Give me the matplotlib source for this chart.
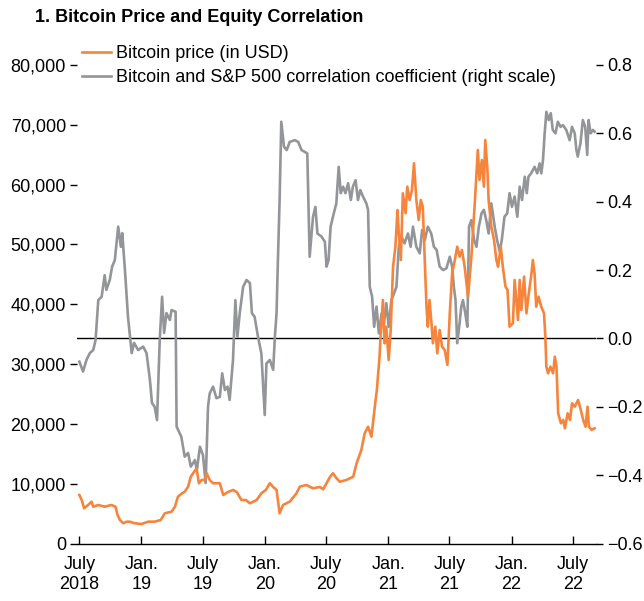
import numpy as np
import pandas as pd
import matplotlib
matplotlib.use("Agg")
import matplotlib.pyplot as plt

plt.rcParams['font.family'] = ['Liberation Sans Narrow', 'Liberation Sans', 'DejaVu Sans']

title = "1. Bitcoin Price and Equity Correlation"
btc_label = "Bitcoin price (in USD)"
corr_label = "Bitcoin and S&P 500 correlation coefficient (right scale)"

# Bitcoin price (USD)
btc_dates = [
    "2018-07-01", "2018-07-08", "2018-07-15", "2018-07-27", "2018-08-06", "2018-08-11", "2018-08-26",
    "2018-09-14", "2018-10-04", "2018-10-16", "2018-10-22", "2018-10-29", "2018-11-08", "2018-11-18",
    "2018-11-27", "2018-12-12", "2019-01-01", "2019-01-21", "2019-02-09", "2019-02-27", "2019-03-11",
    "2019-03-31", "2019-04-10", "2019-04-19", "2019-05-01", "2019-05-09", "2019-05-19", "2019-05-27",
    "2019-06-03", "2019-06-13", "2019-06-20", "2019-06-28", "2019-07-07", "2019-07-13", "2019-07-22",
    "2019-08-01", "2019-08-21", "2019-08-31", "2019-09-14", "2019-09-29", "2019-10-10", "2019-10-24",
    "2019-11-06", "2019-11-18", "2019-12-08", "2019-12-22", "2020-01-04", "2020-01-16", "2020-01-26",
    "2020-02-05", "2020-02-14", "2020-02-24", "2020-03-15", "2020-04-04", "2020-04-14", "2020-05-03",
    "2020-05-23", "2020-06-12", "2020-06-22", "2020-07-02", "2020-07-12", "2020-07-21", "2020-07-31",
    "2020-08-10", "2020-08-30", "2020-09-19", "2020-09-29", "2020-10-13", "2020-10-23", "2020-11-02",
    "2020-11-12", "2020-11-22", "2020-11-28", "2020-12-06", "2020-12-09", "2020-12-16", "2020-12-21",
    "2020-12-26", "2021-01-02", "2021-01-08", "2021-01-15", "2021-01-22", "2021-01-28", "2021-02-01",
    "2021-02-07", "2021-02-13", "2021-02-21", "2021-02-26", "2021-03-05", "2021-03-12", "2021-03-18",
    "2021-03-25", "2021-04-01", "2021-04-07", "2021-04-13", "2021-04-19", "2021-04-24", "2021-04-28",
    "2021-05-03", "2021-05-08", "2021-05-13", "2021-05-20", "2021-05-26", "2021-06-02", "2021-06-09",
    "2021-06-17", "2021-06-25", "2021-07-02", "2021-07-09", "2021-07-17", "2021-07-24", "2021-07-31",
    "2021-08-07", "2021-08-15", "2021-08-25", "2021-09-04", "2021-09-14", "2021-09-23", "2021-09-28",
    "2021-10-05", "2021-10-11", "2021-10-15", "2021-10-21", "2021-10-25", "2021-11-02", "2021-11-10",
    "2021-11-17", "2021-11-22", "2021-11-30", "2021-12-06", "2021-12-14", "2021-12-20", "2021-12-26",
    "2022-01-05", "2022-01-10", "2022-01-15", "2022-01-20", "2022-01-25", "2022-01-30", "2022-02-07",
    "2022-02-14", "2022-02-21", "2022-03-01", "2022-03-05", "2022-03-10", "2022-03-15", "2022-03-22",
    "2022-03-30", "2022-04-07", "2022-04-11", "2022-04-14", "2022-04-19", "2022-04-26", "2022-05-04",
    "2022-05-09", "2022-05-14", "2022-05-19", "2022-05-27", "2022-06-03", "2022-06-08", "2022-06-16",
    "2022-06-23", "2022-06-29", "2022-07-07", "2022-07-17", "2022-07-25", "2022-08-01", "2022-08-08",
    "2022-08-14", "2022-08-18", "2022-08-26", "2022-09-04",
]
btc_price = [
    8110, 7270, 5890, 6440, 6990, 6150, 6440,
    6150, 6440, 6150, 4770, 3930, 3380, 3650,
    3650, 3380, 3260, 3650, 3650, 3930, 5050,
    5320, 6150, 7830, 8390, 8660, 9500, 11170,
    11740, 12570, 10070, 10620, 10620, 11740, 10620,
    10070, 10070, 8110, 8610, 8950, 8610, 7270,
    7270, 6720, 7270, 8390, 8950, 10070, 9450,
    8950, 5050, 6440, 6990, 8390, 9500, 9780,
    9230, 9450, 9060, 10070, 11120, 11740, 10950,
    10330, 10620, 11170, 13410, 15630, 18420, 19530,
    17860, 22870, 25670, 31230, 34580, 40710, 33470,
    36250, 30680, 35700, 46280, 49620, 55760, 51870,
    47400, 58550, 55210, 59660, 57430, 59110, 63570,
    57430, 54090, 57430, 56310, 47400, 39590, 36250,
    40710, 37370, 33470, 36250, 31800, 35700, 32900,
    32350, 29850, 38490, 45180, 47400, 49620, 47950,
    49070, 46280, 41260, 47950, 56880, 65790, 60780,
    64120, 59660, 67470, 63000, 57430, 52970, 50740,
    47400, 46280, 49620, 46280, 42940, 42390, 36250,
    36820, 44060, 40710, 37370, 44060, 39040, 44610,
    38490, 41830, 45180, 47400, 45180, 39590, 41260,
    39590, 38490, 34580, 29560, 28460, 29560, 28460,
    31230, 29560, 21770, 20100, 20650, 19260, 21770,
    20650, 23440, 22870, 23990, 22320, 20650, 19530,
    22870, 19530, 18980, 19260,
]

# Bitcoin / S&P 500 correlation coefficient (right scale)
corr_dates = [
    "2018-07-01", "2018-07-12", "2018-07-22", "2018-08-01", "2018-08-11", "2018-08-18", "2018-08-26",
    "2018-09-05", "2018-09-14", "2018-09-19", "2018-09-29", "2018-10-06", "2018-10-14", "2018-10-24",
    "2018-11-01", "2018-11-05", "2018-11-13", "2018-11-22", "2018-12-03", "2018-12-10", "2018-12-22",
    "2019-01-06", "2019-01-16", "2019-01-26", "2019-02-01", "2019-02-09", "2019-02-16", "2019-02-24",
    "2019-03-03", "2019-03-09", "2019-03-16", "2019-03-26", "2019-03-31", "2019-04-12", "2019-04-15",
    "2019-04-29", "2019-05-09", "2019-05-19", "2019-05-27", "2019-06-08", "2019-06-14", "2019-06-23",
    "2019-07-02", "2019-07-10", "2019-07-17", "2019-07-22", "2019-08-01", "2019-08-11", "2019-08-21",
    "2019-08-28", "2019-09-05", "2019-09-13", "2019-09-19", "2019-09-29", "2019-10-06", "2019-10-12",
    "2019-10-19", "2019-10-29", "2019-11-08", "2019-11-18", "2019-11-24", "2019-12-02", "2019-12-12",
    "2019-12-22", "2020-01-01", "2020-01-06", "2020-01-16", "2020-01-26", "2020-01-31", "2020-02-05",
    "2020-02-09", "2020-02-14", "2020-02-19", "2020-02-27", "2020-03-06", "2020-03-15", "2020-03-30",
    "2020-04-09", "2020-04-19", "2020-04-28", "2020-05-06", "2020-05-13", "2020-05-23", "2020-05-30",
    "2020-06-05", "2020-06-17", "2020-06-27", "2020-07-02", "2020-07-08", "2020-07-14", "2020-07-21",
    "2020-07-31", "2020-08-07", "2020-08-13", "2020-08-20", "2020-08-27", "2020-09-04", "2020-09-12",
    "2020-09-18", "2020-09-26", "2020-10-03", "2020-10-10", "2020-10-18", "2020-10-28", "2020-11-02",
    "2020-11-07", "2020-11-14", "2020-11-20", "2020-11-27", "2020-12-04", "2020-12-12", "2020-12-19",
    "2020-12-26", "2021-01-02", "2021-01-10", "2021-01-18", "2021-01-25", "2021-02-01", "2021-02-09",
    "2021-02-18", "2021-02-28", "2021-03-08", "2021-03-15", "2021-03-25", "2021-04-04", "2021-04-11",
    "2021-04-19", "2021-04-28", "2021-05-08", "2021-05-16", "2021-05-24", "2021-06-02", "2021-06-12",
    "2021-06-22", "2021-07-02", "2021-07-09", "2021-07-14", "2021-07-19", "2021-07-24", "2021-07-31",
    "2021-08-05", "2021-08-10", "2021-08-17", "2021-08-23", "2021-08-28", "2021-09-04", "2021-09-12",
    "2021-09-19", "2021-09-26", "2021-10-04", "2021-10-11", "2021-10-18", "2021-10-25", "2021-11-02",
    "2021-11-12", "2021-11-19", "2021-11-27", "2021-12-03", "2021-12-11", "2021-12-19", "2021-12-26",
    "2022-01-02", "2022-01-10", "2022-01-18", "2022-01-25", "2022-02-01", "2022-02-09", "2022-02-15",
    "2022-02-20", "2022-02-28", "2022-03-10", "2022-03-18", "2022-03-25", "2022-03-30", "2022-04-04",
    "2022-04-09", "2022-04-14", "2022-04-21", "2022-04-27", "2022-05-03", "2022-05-11", "2022-05-18",
    "2022-05-26", "2022-06-02", "2022-06-12", "2022-06-22", "2022-06-29", "2022-07-07", "2022-07-12",
    "2022-07-16", "2022-07-24", "2022-07-31", "2022-08-07", "2022-08-13", "2022-08-17", "2022-08-23",
    "2022-08-30", "2022-09-04",
]
corr_value = [
    -0.068, -0.097, -0.063, -0.043, -0.034, -0.005, 0.112,
    0.122, 0.185, 0.142, 0.171, 0.210, 0.229, 0.327,
    0.268, 0.308, 0.200, 0.063, -0.043, -0.013, -0.034,
    -0.024, -0.043, -0.122, -0.189, -0.200, -0.239, -0.005,
    0.122, 0.016, 0.074, 0.054, 0.083, 0.078, -0.258,
    -0.288, -0.346, -0.335, -0.375, -0.356, -0.385, -0.317,
    -0.341, -0.423, -0.200, -0.161, -0.141, -0.175, -0.171,
    -0.102, -0.151, -0.141, -0.180, -0.063, 0.112, 0.005,
    0.074, 0.151, 0.171, 0.162, 0.074, 0.063, 0.005,
    -0.044, -0.224, -0.073, -0.063, -0.092, 0.005, 0.074,
    0.229, 0.405, 0.634, 0.561, 0.551, 0.575, 0.580,
    0.575, 0.551, 0.546, 0.541, 0.239, 0.356, 0.385,
    0.307, 0.298, 0.283, 0.210, 0.229, 0.327, 0.356,
    0.395, 0.502, 0.425, 0.444, 0.425, 0.454, 0.405,
    0.444, 0.463, 0.405, 0.434, 0.415, 0.395, 0.376,
    0.151, 0.122, 0.034, 0.093, 0.015, 0.073, 0.044,
    0.103, 0.034, 0.112, 0.132, 0.151, 0.268, 0.298,
    0.278, 0.307, 0.268, 0.327, 0.268, 0.249, 0.317,
    0.288, 0.327, 0.307, 0.268, 0.259, 0.210, 0.200,
    0.205, 0.239, 0.210, 0.151, 0.112, -0.014, 0.044,
    0.093, 0.112, 0.073, 0.034, 0.327, 0.346, 0.288,
    0.268, 0.327, 0.366, 0.376, 0.346, 0.307, 0.395,
    0.327, 0.288, 0.254, 0.288, 0.356, 0.366, 0.425,
    0.385, 0.415, 0.356, 0.444, 0.405, 0.473, 0.425,
    0.473, 0.483, 0.502, 0.483, 0.512, 0.483, 0.522,
    0.600, 0.663, 0.639, 0.659, 0.610, 0.600, 0.634,
    0.619, 0.624, 0.610, 0.580, 0.619, 0.600, 0.551,
    0.532, 0.571, 0.639, 0.619, 0.537, 0.639, 0.600,
    0.610, 0.605,
]

xtick_dates = ["2018-07-01", "2019-01-01", "2019-07-01", "2020-01-01", "2020-07-01",
               "2021-01-01", "2021-07-01", "2022-01-01", "2022-07-01"]
xtick_labels = ["July\n2018", "Jan.\n19", "July\n19", "Jan.\n20", "July\n20",
                "Jan.\n21", "July\n21", "Jan.\n22", "July\n22"]
left_ticks = [0, 10000, 20000, 30000, 40000, 50000, 60000, 70000, 80000]
right_ticks = [-0.6, -0.4, -0.2, 0.0, 0.2, 0.4, 0.6, 0.8]

orange = "#F5843C"
gray = "#939598"
fs = 13

fig = plt.figure(figsize=(6.44, 6.01), dpi=100)
ax = fig.add_axes([77 / 644, 1 - 543.5 / 601, 519 / 644, 478.5 / 601])
ax2 = ax.twinx()

ax2.axhline(0, color="black", lw=1)
l2, = ax2.plot(pd.to_datetime(corr_dates), corr_value, color=gray, lw=1.9, label=corr_label)
l1, = ax.plot(pd.to_datetime(btc_dates), btc_price, color=orange, lw=1.9, label=btc_label)

ax.set_zorder(ax2.get_zorder() + 1)
ax.patch.set_visible(False)

ax.set_xlim(pd.Timestamp("2018-06-24"), pd.Timestamp("2022-09-08"))
ax.set_ylim(0, 80000)
ax2.set_ylim(-0.6, 0.8)

ax.set_yticks(left_ticks)
ax.set_yticklabels([f"{v:,}" for v in left_ticks], fontsize=fs)
ax2.set_yticks(right_ticks)
ax2.set_yticklabels([f"{v:.1f}".replace("-", "\u2212") for v in right_ticks], fontsize=fs)
ax.set_xticks(pd.to_datetime(xtick_dates))
ax.set_xticklabels(xtick_labels, fontsize=fs, linespacing=1.25)

for a in (ax, ax2):
    for s in ("top", "left", "right"):
        a.spines[s].set_visible(False)
ax2.spines["bottom"].set_visible(False)
ax.spines["bottom"].set_linewidth(1)

ax.tick_params(axis="y", direction="out", length=5, width=1, pad=3)
ax2.tick_params(axis="y", direction="out", length=5, width=1, pad=3)
ax.tick_params(axis="x", direction="in", length=6, width=1, pad=9)

fig.text(35 / 644, 1 - 17 / 601, title, fontsize=fs, fontweight="bold", va="center", ha="left")
fig.legend([l1, l2], [btc_label, corr_label], loc="upper left",
           bbox_to_anchor=(82 / 644, 1 - 45 / 601), frameon=False, fontsize=fs,
           handlelength=1.6, handletextpad=0.3, labelspacing=0.4, borderpad=0, borderaxespad=0)

fig.savefig("out.png", dpi=100)
